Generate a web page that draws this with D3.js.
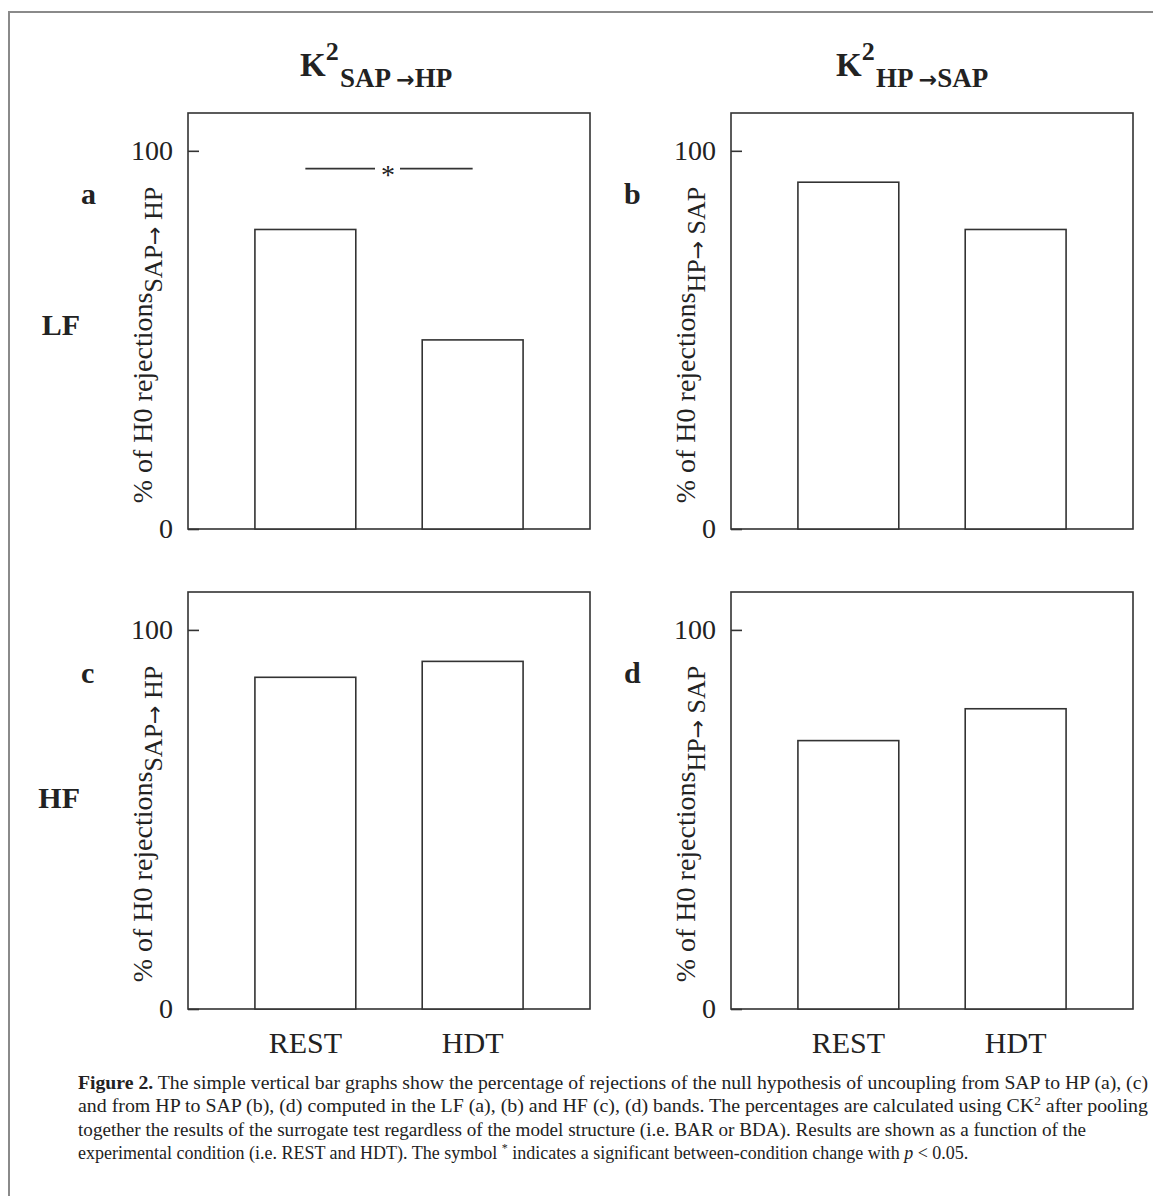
<!DOCTYPE html>
<html>
<head>
<meta charset="utf-8">
<script src="https://cdn.jsdelivr.net/npm/d3@7"></script>
<style>
  html, body { margin: 0; padding: 0; background: #ffffff; }
  svg { display: block; }
  text { font-family: "Liberation Serif", "Times New Roman", serif; fill: #222; }
</style>
</head>
<body>
<svg id="chart" width="1153" height="1196"></svg>
<script>
// ---------------- data ----------------
const conditions = ["REST", "HDT"];
const panelLetters = ["a", "b", "c", "d"];
const bandLabels = ["LF", "HF"];
const directions = [
  { from: "SAP", to: "HP" },
  { from: "HP", to: "SAP" }
];
// % of H0 rejections per panel [REST, HDT]
const valuesA = [79.2, 50.0];   // LF, SAP -> HP
const valuesB = [91.7, 79.2];   // LF, HP -> SAP
const valuesC = [87.5, 91.7];   // HF, SAP -> HP
const valuesD = [70.8, 79.2];   // HF, HP -> SAP
const yTicks = [0, 100];
const yDomain = [0, 110];
const significance = { panel: "a", level: 95.3, symbol: "*" };
const captionLines = [
  [{ t: "Figure 2.", b: true }, { t: " The simple vertical bar graphs show the percentage of rejections of the null hypothesis of uncoupling from SAP to HP (a), (c)" }],
  [{ t: "and from HP to SAP (b), (d) computed in the LF (a), (b) and HF (c), (d) bands. The percentages are calculated using CK" }, { t: "2", sup: true }, { t: " after pooling" }],
  [{ t: "together the results of the surrogate test regardless of the model structure (i.e. BAR or BDA). Results are shown as a function of the" }],
  [{ t: "experimental condition (i.e. REST and HDT). The symbol " }, { t: "*", sup: true }, { t: " indicates a significant between-condition change with " }, { t: "p", i: true }, { t: " < 0.05." }]
];

// ---------------- layout ----------------
const svg = d3.select("#chart");
const colX = [[188, 590], [731, 1133]];
const rowY = [[113, 529], [592, 1009]];
const panelValues = [[valuesA, valuesB], [valuesC, valuesD]];
const ink = "#333";
const arrowFont = "'DejaVu Sans', sans-serif";

// outer figure border (top + left visible)
svg.append("path")
  .attr("d", "M9,1196 L9,12 L1153,12")
  .attr("fill", "none").attr("stroke", "#8a8a8a").attr("stroke-width", 2);

// column titles
directions.forEach((d, ci) => {
  const kx = ci === 0 ? 300 : 836;
  const t = svg.append("text").attr("x", kx).attr("y", 76)
    .style("font-weight", "bold").style("font-size", "33px");
  t.append("tspan").text("K");
  t.append("tspan").attr("dy", -16).style("font-size", "26px").text("2");
  const sub = t.append("tspan").attr("x", kx + 40).attr("y", 87).style("font-size", "27px");
  sub.append("tspan").text(d.from + " ");
  sub.append("tspan").style("font-family", arrowFont).style("font-size", "22px").text("\u2192");
  sub.append("tspan").text(d.to);
});

// row labels
bandLabels.forEach((b, ri) => {
  svg.append("text").attr("x", 80).attr("y", ri === 0 ? 335 : 808)
    .attr("text-anchor", "end").style("font-weight", "bold").style("font-size", "30px").text(b);
});

let k = 0;
rowY.forEach((ry, ri) => {
  colX.forEach((cx, ci) => {
    const vals = panelValues[ri][ci];
    const letter = panelLetters[k++];
    const x = d3.scaleBand().domain(conditions).range(cx).paddingInner(0.397).paddingOuter(0.4);
    const y = d3.scaleLinear().domain(yDomain).range([ry[1], ry[0]]);
    const g = svg.append("g");

    // frame
    g.append("rect").attr("x", cx[0]).attr("y", ry[0])
      .attr("width", cx[1] - cx[0]).attr("height", ry[1] - ry[0])
      .attr("fill", "#fff").attr("stroke", ink).attr("stroke-width", 1.6);

    // bars
    g.selectAll("rect.bar").data(vals).join("rect").attr("class", "bar")
      .attr("x", (v, i) => x(conditions[i]))
      .attr("y", v => y(v))
      .attr("width", x.bandwidth())
      .attr("height", v => y(0) - y(v))
      .attr("fill", "#fff").attr("stroke", ink).attr("stroke-width", 1.6);

    // y axis
    const ax = g.append("g").attr("transform", `translate(${cx[0]},0)`)
      .call(d3.axisLeft(y).tickValues(yTicks).tickFormat(d3.format("d"))
        .tickSizeInner(-11).tickSizeOuter(0).tickPadding(15));
    ax.select(".domain").remove();
    ax.selectAll("line").attr("stroke", ink).attr("stroke-width", 1.6);
    ax.selectAll("text").style("font-size", "28px")
      .style("font-family", "'Liberation Serif', serif").attr("fill", "#222");

    // y label
    const d = directions[ci];
    const lab = g.append("text")
      .attr("transform", `translate(${cx[0] - 36},${ry[0] + 232}) rotate(-90)`)
      .attr("text-anchor", "middle").style("font-size", "28px");
    lab.append("tspan").text("% of H0 rejections");
    const sub = lab.append("tspan").attr("dy", 10).style("font-size", "26px");
    sub.append("tspan").text(d.from);
    sub.append("tspan").style("font-family", arrowFont).style("font-size", "22px").text("\u2192");
    sub.append("tspan").text(" " + d.to);

    // panel letter
    svg.append("text").attr("x", cx[0] - 107).attr("y", ry[0] + 91)
      .style("font-weight", "bold").style("font-size", "30px").text(letter);

    // x labels on bottom row
    if (ri === 1) {
      conditions.forEach(c => {
        svg.append("text").attr("x", x(c) + x.bandwidth() / 2).attr("y", ry[1] + 44)
          .attr("text-anchor", "middle").style("font-size", "30px").text(c);
      });
    }

    // significance marker
    if (letter === significance.panel) {
      const x1 = x(conditions[0]) + x.bandwidth() / 2;
      const x2 = x(conditions[1]) + x.bandwidth() / 2;
      const xm = (x1 + x2) / 2;
      const yy = y(significance.level);
      g.append("line").attr("x1", x1).attr("x2", xm - 14).attr("y1", yy).attr("y2", yy)
        .attr("stroke", ink).attr("stroke-width", 1.6);
      g.append("line").attr("x1", xm + 11).attr("x2", x2).attr("y1", yy).attr("y2", yy)
        .attr("stroke", ink).attr("stroke-width", 1.6);
      g.append("text").attr("x", xm - 1).attr("y", yy + 15).attr("text-anchor", "middle")
        .style("font-size", "28px").text(significance.symbol);
    }
  });
});

// caption
const capY = [1089, 1112, 1136, 1159];
const capW = [1070, 1070, 1008, null];
captionLines.forEach((line, li) => {
  const t = svg.append("text").attr("x", 78).attr("y", capY[li])
    .style("font-size", "18px");
  if (capW[li]) t.attr("textLength", capW[li]).attr("lengthAdjust", "spacingAndGlyphs");
  line.forEach(seg => {
    const s = t.append("tspan").text(seg.t);
    if (seg.b) s.style("font-weight", "bold");
    if (seg.i) s.style("font-style", "italic");
    if (seg.sup) { s.attr("baseline-shift", "super").style("font-size", "12px"); }
  });
});
</script>
</body>
</html>
